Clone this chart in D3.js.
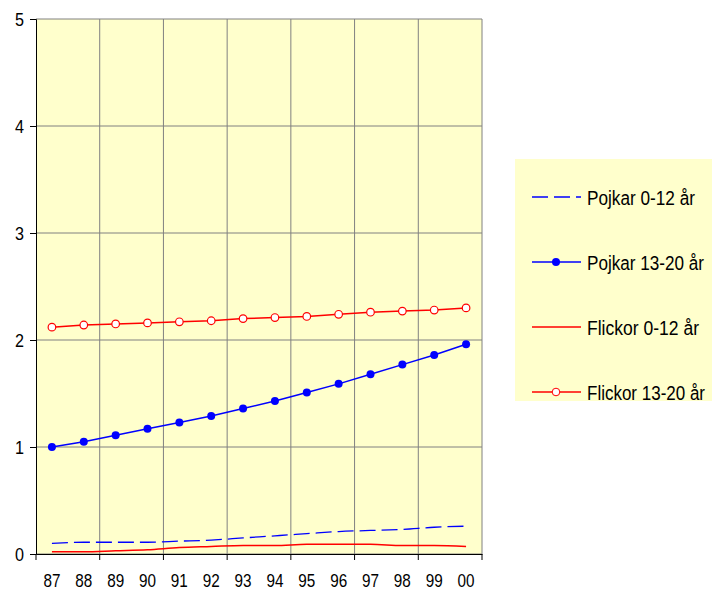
<!DOCTYPE html>
<html><head><meta charset="utf-8">
<script src="https://cdn.jsdelivr.net/npm/d3@7"></script>
<style>body{margin:0;background:#fff}text{font-family:"Liberation Sans",Arial,sans-serif}</style>
</head><body><svg id="c" width="712" height="596"></svg>
<script>
const years=["87","88","89","90","91","92","93","94","95","96","97","98","99","00"];
const yTicks=[0,1,2,3,4,5];
const pojkar012=[0.10,0.11,0.11,0.11,0.12,0.13,0.15,0.17,0.19,0.21,0.22,0.23,0.25,0.26];
const pojkar1320=[1.00,1.05,1.11,1.17,1.23,1.29,1.36,1.43,1.51,1.59,1.68,1.77,1.86,1.96];
const flickor012=[0.02,0.02,0.03,0.04,0.06,0.07,0.08,0.08,0.09,0.09,0.09,0.08,0.08,0.07];
const flickor1320=[2.12,2.14,2.15,2.16,2.17,2.18,2.20,2.21,2.22,2.24,2.26,2.27,2.28,2.30];
const seriesNames=["Pojkar 0-12 år","Pojkar 13-20 år","Flickor 0-12 år","Flickor 13-20 år"];

const svg=d3.select("#c");
const L=36,R=482,T=19,B=554;
const x=d3.scaleBand().domain(years).range([L,R]);
const y=d3.scaleLinear().domain([0,5]).range([B,T]);
svg.append("rect").attr("x",L).attr("y",T).attr("width",R-L).attr("height",B-T).attr("fill","#FFFFCC");
yTicks.forEach(t=>svg.append("line").attr("x1",L).attr("x2",R).attr("y1",y(t)).attr("y2",y(t)).attr("stroke","#808080"));
years.forEach((d,i)=>{if(i%2==0&&i>0)svg.append("line").attr("x1",x(d)).attr("x2",x(d)).attr("y1",T).attr("y2",B).attr("stroke","#808080");});
svg.append("line").attr("x1",R).attr("x2",R).attr("y1",T).attr("y2",B).attr("stroke","#808080");
const ya=svg.append("g").attr("transform",`translate(${L},0)`).call(d3.axisLeft(y).tickValues(yTicks).tickSize(6).tickPadding(6).tickFormat(d3.format("d")));
ya.selectAll("text").attr("font-size",19).attr("fill","#000").attr("textLength",9).attr("lengthAdjust","spacingAndGlyphs");
const xa=svg.append("g").attr("transform",`translate(0,${B})`).call(d3.axisBottom(x).tickSize(0).tickPadding(20));
xa.selectAll("text").attr("font-size",19).attr("fill","#000").attr("textLength",17).attr("lengthAdjust","spacingAndGlyphs");
years.forEach((d,i)=>{if(i%2==0)svg.append("line").attr("x1",x(d)).attr("x2",x(d)).attr("y1",B).attr("y2",B+6).attr("stroke","#000");});
svg.append("line").attr("x1",R).attr("x2",R).attr("y1",B).attr("y2",B+6).attr("stroke","#000");
ya.select(".domain").attr("stroke","#000");xa.select(".domain").attr("stroke","#000");

const cx=d=>x(d)+x.bandwidth()/2;
const line=d3.line().x((v,i)=>cx(years[i])).y(v=>y(v));
const sm=d3.line().x((v,i)=>cx(years[i])).y(v=>y(v)).curve(d3.curveMonotoneX);
svg.append("path").attr("d",sm(pojkar012)).attr("fill","none").attr("stroke","#0000FF").attr("stroke-width",1.3).attr("stroke-dasharray","16,6");
svg.append("path").attr("d",sm(flickor012)).attr("fill","none").attr("stroke","#FF0000").attr("stroke-width",1.5);
svg.append("path").attr("d",line(pojkar1320)).attr("fill","none").attr("stroke","#0000FF").attr("stroke-width",1.5);
svg.selectAll(".pb").data(pojkar1320).enter().append("circle").attr("cx",(v,i)=>cx(years[i])).attr("cy",v=>y(v)).attr("r",4).attr("fill","#0000FF");
svg.append("path").attr("d",line(flickor1320)).attr("fill","none").attr("stroke","#FF0000").attr("stroke-width",1.5);
svg.selectAll(".fr").data(flickor1320).enter().append("circle").attr("cx",(v,i)=>cx(years[i])).attr("cy",v=>y(v)).attr("r",3.8).attr("fill","#fff").attr("stroke","#FF0000").attr("stroke-width",1.2);

svg.append("rect").attr("x",515).attr("y",159).attr("width",197).attr("height",242).attr("fill","#FFFFCC");
const ly=[197,262,327,392];
const lw=[108,117,112,118];
const lc=["#0000FF","#0000FF","#FF0000","#FF0000"];
seriesNames.forEach((n,i)=>{
  const g=svg.append("g");
  g.append("line").attr("x1",532).attr("x2",581).attr("y1",ly[i]).attr("y2",ly[i]).attr("stroke",lc[i]).attr("stroke-width",1.3).attr("stroke-dasharray",i==0?"16,6":null);
  if(i==1)g.append("circle").attr("cx",556).attr("cy",ly[i]).attr("r",4).attr("fill","#0000FF");
  if(i==3)g.append("circle").attr("cx",556).attr("cy",ly[i]).attr("r",3.8).attr("fill","#fff").attr("stroke","#FF0000");
  g.append("text").attr("x",587).attr("y",ly[i]+8).attr("font-size",20).attr("textLength",lw[i]).attr("lengthAdjust","spacingAndGlyphs").text(n);
});
</script></body></html>
